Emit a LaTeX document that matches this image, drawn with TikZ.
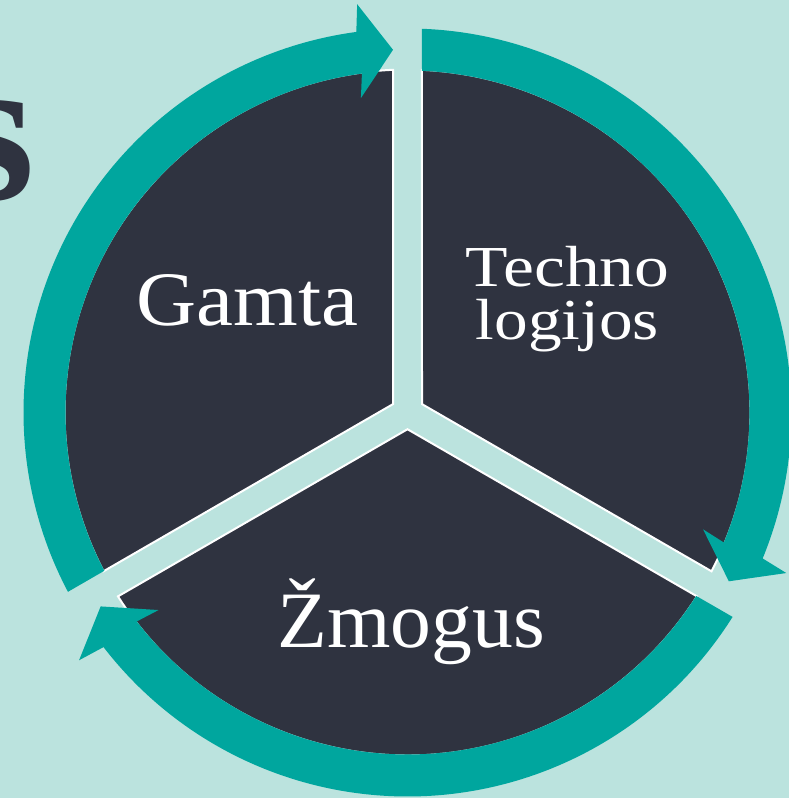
\documentclass[tikz,border=0pt]{standalone}
\usepackage{fontspec}
\setmainfont{Liberation Serif}
\usetikzlibrary{calc}
\definecolor{bgc}{RGB}{187,227,222}
\definecolor{tealc}{RGB}{0,166,158}
\definecolor{darkc}{RGB}{47,51,64}
\tikzset{
  sector/.style={fill=darkc, draw=white, line width=2pt, line join=miter},
  tealarrow/.style={fill=tealc},
  label/.style={text=white, inner sep=0pt, anchor=base},
}
% #1 ray where the tail starts, #2 ray where the tip ends (#2 < #1)
\newcommand\cyclearrow[2]{%
  \pgfmathsetmacro\tO{#1-2.16}%
  \pgfmathsetmacro\tI{#1-2.43}%
  \pgfmathsetmacro\hT{#2+2.29}%
  \pgfmathsetmacro\hB{#2+2.29+5.37}%
  \pgfmathsetmacro\hN{#2+2.29+90}%
  \pgfmathsetmacro\hR{#2+2.29+180}%
  \fill[tealarrow] ($(C)+(\tO:384)$) arc[start angle=\tO, end angle=\hB, radius=384]
    -- ($(C)+(\hT:363)+(\hN:34)+(\hT:47)$)
    -- ($(C)+(\hT:363)$)
    -- ($(C)+(\hT:363)+(\hN:34)+(\hR:47)$)
    -- ($(C)+(\hB:342)$) arc[start angle=\hB, end angle=\tI, radius=342] -- cycle;%
}
% #1 first ray, #2 second ray (#2 = #1 + 120)
\newcommand\pieslice[2]{%
  \pgfmathsetmacro\sA{#1+2.42}%
  \pgfmathsetmacro\sB{#2-2.42}%
  \pgfmathsetmacro\sM{(#1+#2)/2}%
  \path[sector] ($(C)+(\sM:16.74)$) -- ($(C)+(\sA:343)$)
    arc[start angle=\sA, end angle=\sB, radius=343] -- cycle;%
}
\begin{document}
\begin{tikzpicture}[x=1pt, y=1pt]
\useasboundingbox (0,0) rectangle (789,798);
\clip (0,0) rectangle (789,798);
\fill[bgc] (0,0) rectangle (789,798);
\coordinate (C) at (407.5,385.5);
% cut-off title letter at the left edge
\node[inner sep=0pt, anchor=base east, text=darkc, font=\bfseries\fontsize{210}{210}\selectfont] (title) at (35,598) {s};
% pie slices
\pieslice{-30}{90}
\pieslice{90}{210}
\pieslice{210}{330}
% cycle arrows
\cyclearrow{90}{-30}
\cyclearrow{330}{210}
\cyclearrow{210}{90}
% labels
\node[label, font=\fontsize{77}{77}\selectfont] (gamta) at (247.5,472)
  {\scalebox{1.08}[1]{Gamta}};
\node[label, align=center, font=\fontsize{58}{53}\selectfont] (tech) at (567.5,458)
  {\scalebox{1.2}[1]{Techno}\\\scalebox{1.16}[1]{logijos}};
\node[label, font=\fontsize{80}{80}\selectfont] (zmogus) at (411,150)
  {\scalebox{1.02}[1]{Žmogus}};
\end{tikzpicture}
\end{document}
